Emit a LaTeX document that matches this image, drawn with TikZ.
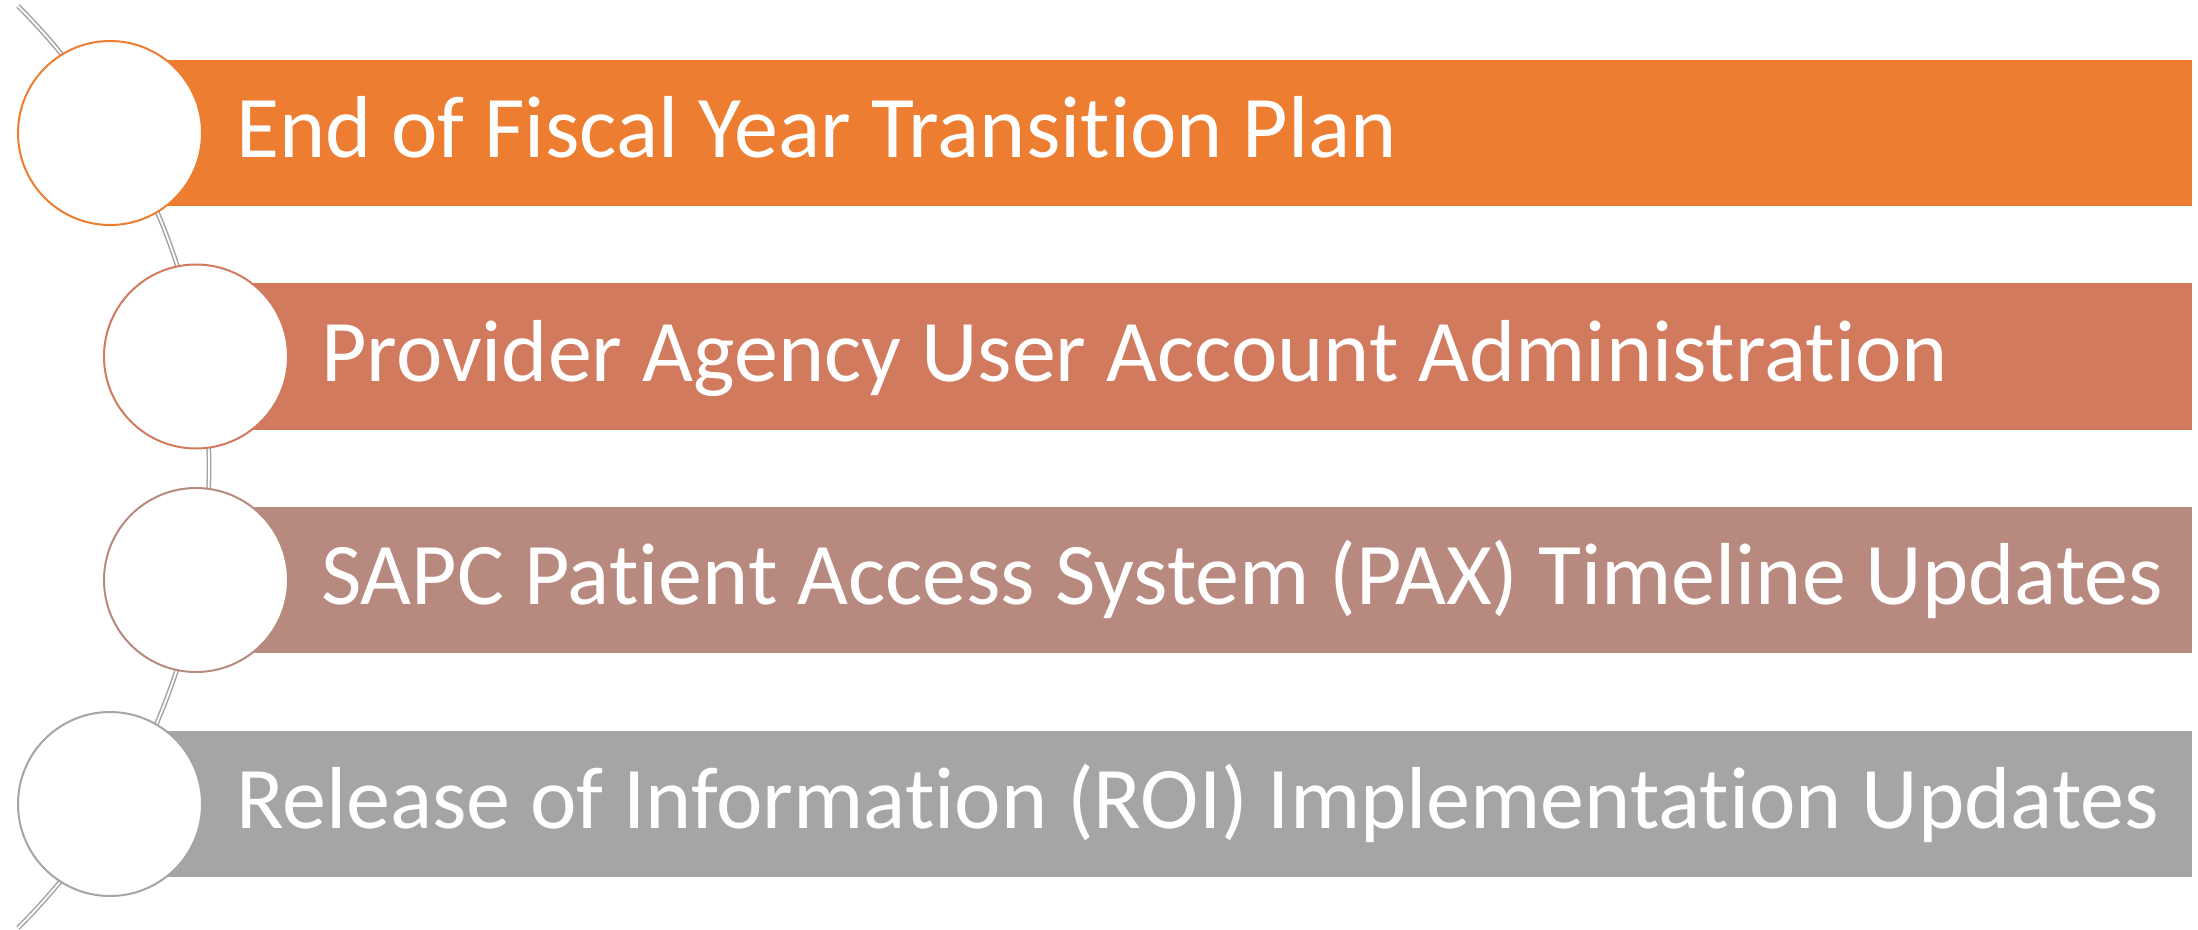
\documentclass[tikz,border=0pt]{standalone}
\usepackage{fontspec}
\setmainfont[Ligatures={NoCommon,NoDiscretionary,NoRare,NoContextual}]{Carlito}
\definecolor{cA}{HTML}{ED7D31}
\definecolor{cB}{HTML}{D17A5E}
\definecolor{cC}{HTML}{B8897F}
\definecolor{cD}{HTML}{A5A5A5}
\definecolor{arcgray}{HTML}{A3A3A3}
\tikzset{
  dot/.style={circle, fill=white, draw, line width=2pt, minimum size=184pt, inner sep=0pt},
  label/.style={anchor=base west, inner sep=0pt, text=white, font=\fontsize{88}{100}\selectfont},
  rail/.style={draw=arcgray, line width=1.5pt, double=white, double distance=1.8pt}
}
\begin{document}
\begin{tikzpicture}[x=1pt,y=-1pt]
\useasboundingbox (0,0) rectangle (2198,929);
% background rail
\coordinate (arccenter) at (-442.8,467);
\draw[rail] (arccenter) ++(-45:651.8) arc[start angle=-45,end angle=45,radius=651.8];
% bars
\fill[cA] (110,60) rectangle (2192,206);
\fill[cB] (196,283) rectangle (2192,430);
\fill[cC] (196,507) rectangle (2192,653);
\fill[cD] (110,731) rectangle (2192,877);
% circles
\node[dot, draw=cA] (c1) at (110,133) {};
\node[dot, draw=cB] (c2) at (196,356.5) {};
\node[dot, draw=cC] (c3) at (196,580) {};
\node[dot, draw=cD] (c4) at (110,804) {};
% labels
\node[label] (t1) at (236,157) {End of Fiscal Year Transition Plan};
\node[label] (t2) at (321,381) {Provider Agency User Account Administration};
\node[label] (t3) at (321,604) {SAPC Patient Access System (PAX) Timeline Updates};
\node[label] (t4) at (236,828) {Release of Information (ROI) Implementation Updates};
\end{tikzpicture}
\end{document}
